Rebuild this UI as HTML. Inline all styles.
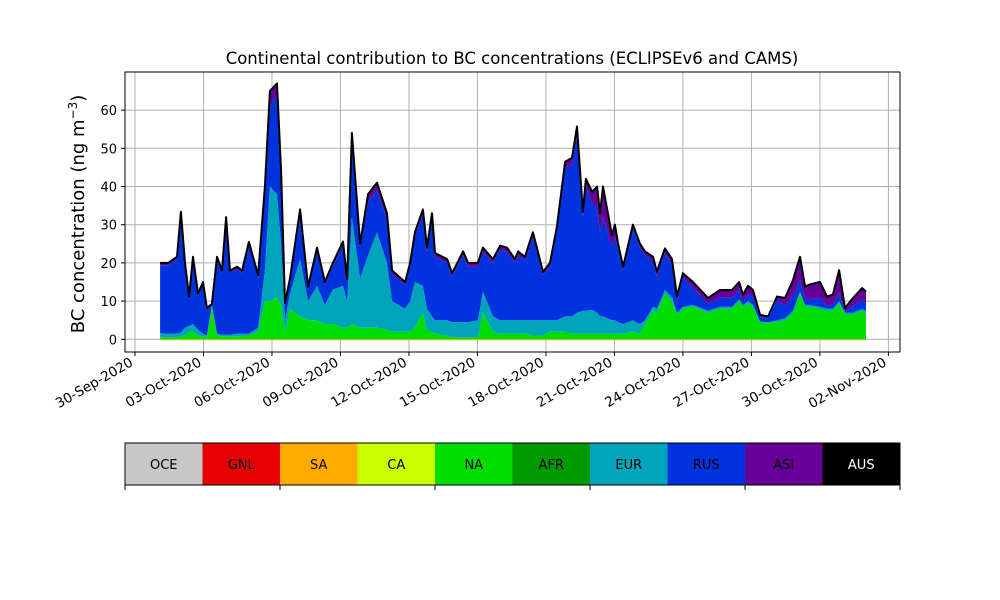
<!DOCTYPE html>
<html><head><meta charset="utf-8">
<style>
body{margin:0;background:#fff;}
svg{display:block;font-family:"DejaVu Sans","Liberation Sans",sans-serif;}
</style></head>
<body>
<svg id="chart" width="1000" height="600" viewBox="0 0 1000 600" xmlns="http://www.w3.org/2000/svg">
<rect width="1000" height="600" fill="#fff"/>
<text x="512" y="64" font-size="16.5" text-anchor="middle">Continental contribution to BC concentrations (ECLIPSEv6 and CAMS)</text>
<text transform="translate(84,214) rotate(-90)" font-size="18" text-anchor="middle">BC concentration (ng m<tspan dy="-7" font-size="12">−3</tspan><tspan dy="7">)</tspan></text>
<g id="grid"></g>
<g id="areas"></g>
<g id="axes"></g>
<g id="cbar"></g>
</svg>
<script>
const times=[1.10,1.45,1.84,2.01,2.19,2.37,2.54,2.76,2.98,3.15,3.37,3.59,3.81,3.99,4.16,4.47,4.69,4.99,5.39,5.69,5.91,6.22,6.40,6.57,6.79,7.23,7.58,7.97,8.32,8.67,9.11,9.29,9.50,9.86,10.21,10.60,11.04,11.26,11.83,12.05,12.26,12.61,12.79,13.01,13.14,13.67,13.89,14.37,14.59,15.02,15.24,15.68,15.99,16.29,16.64,16.78,17.08,17.43,17.87,18.18,18.48,18.84,19.14,19.36,19.62,19.75,20.02,20.24,20.37,20.50,20.89,21.02,21.16,21.38,21.81,22.12,22.34,22.69,22.86,23.21,23.52,23.74,24.00,24.44,25.10,25.62,26.15,26.46,26.63,26.85,27.07,27.38,27.73,28.12,28.47,28.82,29.13,29.35,29.57,30.00,30.31,30.57,30.84,31.10,31.45,31.85,32.02];
const naVals=[0.5,0.5,0.5,0.8,1,2,2,1,0.8,0.5,8.5,1,0.8,0.8,0.8,0.8,1,1,2,10,10,11,9,2,8,6,5,5,4,4,3,3,4,3,3,3,2.5,2,2,2,3,7,2.5,2,1.5,1,0.5,0.5,0.5,0.5,7,2,1.5,1.5,1.5,1.5,1.5,1,1,2,2,2,1.5,1.5,1.5,1.5,1.5,1.5,1.5,1.5,1.5,1.5,1.5,1.5,2,1.6,4,7.5,7,12,10,6.4,8,8.6,6.9,8,8,10,8.5,9.5,8.5,4.3,4.3,4.5,5,6.9,12,8.5,8.5,8,7.5,7.5,9.4,6.5,6.5,7.5,7];
const eurVals=[1.1,1.0,1.0,1.0,2,1.5,2,1.5,0.7,0.5,0.5,0.5,0.4,0.4,0.4,0.7,0.5,0.5,1,8,30,27,16,3,4,15,5,9,5,9,11,7,28,13,19,25,17.5,8,6,8,12,7,5.5,4,3.5,4,4,4,4,4.5,5.5,4,3.5,3.5,3.5,3.5,3.5,4,4,3,3,4,4.5,5.5,6,6,6.2,5.5,4.5,4.5,3.5,3.5,3,2.5,3,2.4,1,1,1,0.9,1,0.6,0.5,0.4,0.6,0.5,0.5,0.5,0.5,0.5,0.5,0.3,0.2,0.5,0.5,0.6,0.5,0.5,0.5,0.5,0.5,0.5,0.6,0.5,0.5,0.5,0.5];
const rusVals=[17.8,17.9,19.5,30.8,16.4,7.3,17,9.1,13.1,6.9,0,19.5,16.2,30,16.2,16.9,15.9,23.2,13.2,20.5,21,26,17,4,3,11,3,9,5.2,6.2,10.6,5.1,20.5,8,14,11,11.5,7,6.2,9.2,12,18.5,15,26,16.6,15,12,17.5,14.5,14,10.5,14,18.5,18,15,17,15.6,22,11.9,14,23.5,39,39.5,46.7,24.4,32.5,27.9,28,22,26,19.3,22,19,14,24,20,17,12.1,8.2,9.9,8.5,2.7,7.8,4.5,1.8,2.4,2.4,2.5,0.7,2,1.9,1.3,1,5.2,3.3,4,3.1,1.8,1.4,2.5,0.7,1.2,2.1,0.2,1.8,2.4,2];
const asiVals=[0.6,0.6,0.6,0.8,0.6,0.4,0.6,0.4,0.4,0.3,0.3,0.6,0.6,0.8,0.6,0.6,0.6,0.8,0.6,1.5,4,3,2,0.5,1,2,0.8,1,0.8,0.8,1,0.6,1.5,1,2,2,1.5,1,0.8,0.8,1,1.5,1,1,1,1,0.8,1,1,1,1,1,1,1,1,1,1,1,0.8,1,1,1.5,2,2,1.5,2,3,5,5,8,3,3,1.5,1,1,1,1,1,1.5,1,1.5,1.5,1,1.5,1.5,2,2,2,2,2,2,0.5,0.5,1,2,4,6,3,4,4,2.5,2.5,6,1,2,3,3];
const yTicks=[0,10,20,30,40,50,60];
const xTickDays=[0,3,6,9,12,15,18,21,24,27,30,33];
const xTickLabels=["30-Sep-2020","03-Oct-2020","06-Oct-2020","09-Oct-2020","12-Oct-2020","15-Oct-2020","18-Oct-2020","21-Oct-2020","24-Oct-2020","27-Oct-2020","30-Oct-2020","02-Nov-2020"];
const regions=["OCE","GNL","SA","CA","NA","AFR","EUR","RUS","ASI","AUS"];
const regionColors=["#c8c8c8","#e60000","#ffaa00","#ccff00","#00dd00","#009900","#00a5bb","#0033dd","#660099","#000000"];

const NS="http://www.w3.org/2000/svg";
const L=125,R=900,T=72,B=352;
const xs=t=>135+22.83*t;
const ys=v=>339.3-3.82*v;
function mk(tag,attrs,parent){const e=document.createElementNS(NS,tag);for(const k in attrs)e.setAttribute(k,attrs[k]);parent.appendChild(e);return e;}
const grid=document.getElementById('grid'),areas=document.getElementById('areas'),axes=document.getElementById('axes'),cbar=document.getElementById('cbar');

yTicks.forEach(v=>{
  const g=mk('line',{x1:L,x2:R,y1:ys(v),y2:ys(v),stroke:'#b0b0b0','stroke-width':1},grid);
  
  
  const tk=mk('line',{x1:L-4,x2:L,y1:ys(v),y2:ys(v),stroke:'#000'},axes);
  
  
  const tx=mk('text',{x:L-8,y:ys(v)+5,'font-size':13,'text-anchor':'end'},axes);
  tx.textContent=v;
  
  
});
xTickDays.forEach((d,i)=>{
  const x=xs(d);
  const g=mk('line',{x1:x,x2:x,y1:T,y2:B,stroke:'#b0b0b0','stroke-width':1},grid);
  
  
  const tk=mk('line',{x1:x,x2:x,y1:B,y2:B+4,stroke:'#000'},axes);
  
  
  const tx=mk('text',{transform:`translate(${x-1},${B+13}) rotate(-30)`,'font-size':13.5,'text-anchor':'end'},axes);
  tx.textContent=xTickLabels[i];
  
  
});

const series=[["na",naVals,"#00dd00"],["eur",eurVals,"#00a5bb"],["rus",rusVals,"#0033dd"],["asi",asiVals,"#660099"]];
let base=times.map(()=>0);
series.forEach(([name,vals,col])=>{
  const top=base.map((b,i)=>b+vals[i]);
  let d='M'+times.map((t,i)=>xs(t).toFixed(1)+','+ys(top[i]).toFixed(1)).join('L');
  for(let i=times.length-1;i>=0;i--)d+='L'+xs(times[i]).toFixed(1)+','+ys(base[i]).toFixed(1);
  d+='Z';
  const p=mk('path',{d:d,fill:col,stroke:'none'},areas);
  
  
  base=top;
});
const tl=mk('path',{d:'M'+times.map((t,i)=>xs(t).toFixed(1)+','+ys(base[i]).toFixed(1)).join('L'),fill:'none',stroke:'#000','stroke-width':2,'stroke-linejoin':'round'},areas);


const bl=mk('line',{x1:xs(times[0]),x2:xs(times[times.length-1]),y1:ys(0)+0.5,y2:ys(0)+0.5,stroke:'#c8c800','stroke-width':1},areas);



const fr=mk('rect',{x:L,y:T,width:R-L,height:B-T,fill:'none',stroke:'#000','stroke-width':1},axes);



const cw=(R-L)/regions.length;
regions.forEach((r,i)=>{
  const c=mk('rect',{x:L+i*cw,y:443,width:cw,height:42,fill:regionColors[i]},cbar);
  
  
  const t=mk('text',{x:L+i*cw+cw/2,y:469,'font-size':13,'text-anchor':'middle',fill:r==='AUS'?'#fff':'#000'},cbar);
  t.textContent=r;
  
  
});
const cf=mk('rect',{x:L,y:443,width:R-L,height:42,fill:'none',stroke:'#000','stroke-width':1},cbar);


for(let k=0;k<=5;k++){
  const tk=mk('line',{x1:L+k*2*cw,x2:L+k*2*cw,y1:485,y2:490,stroke:'#000'},cbar);
  
  
}
</script>
</body></html>
